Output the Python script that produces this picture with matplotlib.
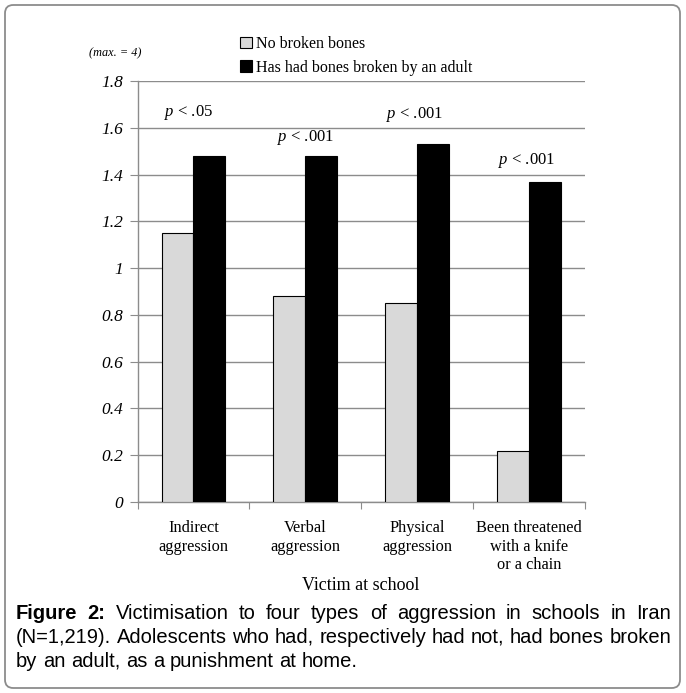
import matplotlib
matplotlib.use("Agg")
import matplotlib.pyplot as plt
from matplotlib.patches import FancyBboxPatch, Patch
from matplotlib.font_manager import FontProperties
import numpy as np

plt.rcParams["mathtext.fontset"] = "custom"
plt.rcParams["mathtext.it"] = "Liberation Serif:italic"
plt.rcParams["mathtext.rm"] = "Liberation Serif"

categories = ["Indirect\naggression", "Verbal\naggression", "Physical\naggression",
              "Been threatened\nwith a knife\nor a chain"]
no_broken = [1.15, 0.88, 0.85, 0.22]
broken = [1.48, 1.48, 1.53, 1.37]
p_labels = [".05", ".001", ".001", ".001"]
p_heights = [1.667, 1.56, 1.655, 1.458]
p_offsets = [-0.045, 0.0, -0.02, -0.02]
series_names = ["No broken bones", "Has had bones broken by an adult"]
yticks = [0, 0.2, 0.4, 0.6, 0.8, 1, 1.2, 1.4, 1.6, 1.8]

serif = "Liberation Serif"
sans = ["Liberation Sans", "DejaVu Sans"]
W, H = 686, 693
fig = plt.figure(figsize=(W/100, H/100), dpi=100)

border = FancyBboxPatch((5/W, 5/H), 675/W, 683/H,
                        boxstyle="round,pad=0,rounding_size=0.012",
                        transform=fig.transFigure, fill=False,
                        edgecolor="#8c8c8c", linewidth=1.3)
fig.patches.append(border)

ax = fig.add_axes([137.5/W, 1-502/H, 447.5/W, 421/H])
x = np.arange(len(categories))
bw = 0.285
ax.bar(x - bw/2, no_broken, bw, color="#d9d9d9", edgecolor="black", linewidth=0.8, zorder=3)
ax.bar(x + bw/2, broken, bw, color="black", edgecolor="black", linewidth=0.8, zorder=3)

ax.set_ylim(0, 1.8)
ax.set_xlim(-0.5, len(categories) - 0.5)
ax.set_yticks(yticks)
ax.set_yticklabels([f"{v:g}" for v in yticks], fontfamily=serif, fontstyle="italic", fontsize=12.5)
ax.yaxis.grid(True, color="#8c8c8c", linewidth=1.0, zorder=0)
ax.set_axisbelow(True)
for s in ["top", "right"]:
    ax.spines[s].set_visible(False)
for s in ["left", "bottom"]:
    ax.spines[s].set_color("#8c8c8c")
    ax.spines[s].set_linewidth(1.0)
ax.tick_params(axis="y", length=5.5, color="#8c8c8c", pad=5)

ax.set_xticks(np.arange(-0.5, len(categories)), minor=False)
ax.set_xticklabels([])
ax.tick_params(axis="x", length=5, color="#8c8c8c")
ax.set_xticks(x, minor=True)
ax.set_xticklabels(categories, minor=True, fontfamily=serif, fontsize=11.8, linespacing=1.22)
ax.tick_params(axis="x", which="minor", length=0, pad=13)

for xi, lab, h, off in zip(x, p_labels, p_heights, p_offsets):
    ax.text(xi + off, h, r"$p$" + " < " + lab,
            ha="center", va="center", fontsize=12, fontfamily=serif)

fig.text(361/W, 1-586/H, "Victim at school", ha="center", va="center",
         fontfamily=serif, fontsize=13)
fig.text(115/W, 1-53/H, "(max. = 4)", ha="center", va="center",
         fontfamily=serif, fontstyle="italic", fontsize=8.8)

handles = [Patch(facecolor="#d9d9d9", edgecolor="black", linewidth=0.8),
           Patch(facecolor="black", edgecolor="black", linewidth=0.8)]
fig.legend(handles, series_names, loc="upper left", bbox_to_anchor=(234/W, 1-30/H),
           frameon=False, prop={"family": serif, "size": 11.5}, handlelength=0.7,
           handleheight=0.7, handletextpad=0.3, labelspacing=0.45, borderaxespad=0)

# ---- caption: word-by-word, justified, pixel-consistent baselines ----
caption_lines = [[("Figure", "bold"), ("2:", "bold")] +
                 [(w, "normal") for w in "Victimisation to four types of aggression in schools in Iran".split()],
                 [(w, "normal") for w in "(N=1,219). Adolescents who had, respectively had not, had bones broken".split()],
                 [(w, "normal") for w in "by an adult, as a punishment at home.".split()]]
justify = [True, True, False]
baselines = [619, 643, 667]
x0, x1 = 16, 671
csize = 14.5
renderer = fig.canvas.get_renderer()
canvash = renderer.height

try:
    from matplotlib.backends.backend_agg import get_hinting_flag
except Exception:
    get_hinting_flag = None


def snapped_top(word, fp, target):
    """Return baseline y (pixels from top) so that the glyph baseline lands on row `target`."""
    try:
        font = renderer._prepare_font(fp)
        font.set_text(word, 0, flags=get_hinting_flag())
        wd, hd = font.get_width_height()
        dsc = font.get_descent()
        ymax = hd - dsc
        ymin = -dsc
        R = target + (ymax - ymin) // 64 - ymax // 64
        return R - dsc / 64.0
    except Exception:
        return float(target)


def ink_width(word, fp):
    w, h, d = renderer.get_text_width_height_descent(word, fp, ismath=False)
    return w


fp_regular = FontProperties(family=sans, size=csize)
space_w = ink_width("a a", fp_regular) - ink_width("aa", fp_regular)

for words, just, T in zip(caption_lines, justify, baselines):
    fps = [FontProperties(family=sans, size=csize, weight=wt) for _, wt in words]
    widths = [ink_width(w, fp) for (w, _), fp in zip(words, fps)]
    if just:
        gap = (x1 - x0 - sum(widths)) / (len(words) - 1)
    else:
        gap = space_w
    cx = x0
    for (w, wt), fp, wdt in zip(words, fps, widths):
        yb = snapped_top(w, fp, T)
        fig.text(cx / W, (canvash - yb) / canvash, w, ha="left", va="baseline",
                 fontproperties=fp)
        cx += wdt + gap

fig.savefig("out.png", dpi=100)
